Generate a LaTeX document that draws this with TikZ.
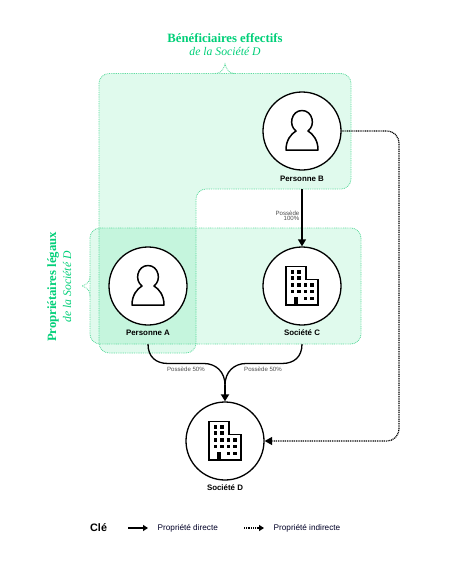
\documentclass[tikz,border=0pt]{standalone}
\usepackage{fontspec}
\setmainfont{Liberation Sans}
\newfontfamily\serifface{Liberation Serif}
\usetikzlibrary{arrows.meta}
\definecolor{gtext}{HTML}{00CF78}
\definecolor{gline}{HTML}{5FDB9F}
\definecolor{gfill}{HTML}{00D26A}
\tikzset{
  x=1pt,y=-1pt,
  region/.style={fill=gfill,fill opacity=.12,draw=gline,draw opacity=1,line width=.8pt,dash pattern=on .9pt off .9pt,rounded corners=10pt},
  bracey/.style={draw=gline,line width=.8pt,dash pattern=on .9pt off .9pt},
  entity/.style={circle,draw=black,line width=1.3pt,fill=white,minimum size=78pt,inner sep=0pt},
  elabel/.style={font=\fontsize{7.9}{9}\selectfont\bfseries,text=black,inner sep=0pt},
  smalllabel/.style={font=\fontsize{6.1}{7}\selectfont,text=black!70,inner sep=0pt,align=right},
  keylabel/.style={font=\fontsize{8.2}{9}\selectfont,text=black!85!blue,inner sep=0pt,anchor=west},
  direct/.style={line width=1.3pt,draw=black},
  indirect/.style={line width=1.2pt,draw=black,dash pattern=on 1pt off .8pt},
  headtip/.style={-{Triangle[length=7pt,width=8pt]}},
  smalltip/.style={-{Triangle[length=5pt,width=6pt]}},
  titlea/.style={font=\serifface\fontsize{12.7}{14}\selectfont\bfseries,text=gtext,inner sep=0pt},
  titleb/.style={font=\serifface\fontsize{11.7}{14}\selectfont\itshape,text=gtext,inner sep=0pt},
  person/.pic={
    \draw[line width=1.5pt,line join=round]
      (-16,19) -- (16,19)
      .. controls (16,9) and (11,3) .. (6,0)
      .. controls (10,-3) and (11,-8) .. (10,-12)
      .. controls (9,-17) and (5,-20.5) .. (0,-20.5)
      .. controls (-5,-20.5) and (-9,-17) .. (-10,-12)
      .. controls (-11,-8) and (-10,-3) .. (-6,0)
      .. controls (-11,3) and (-16,9) .. (-16,19) -- cycle;
  },
  building/.pic={
    \draw[line width=1.8pt]
      (-16,19) -- (-16,-19.5) -- (3.7,-19.5) -- (3.7,-6.5) -- (16,-6.5) -- (16,19) -- cycle;
    \foreach \xx/\yy in {-9.3/-14,-3/-14,-9.3/-8,-3/-8,-9.3/-1,-3/-1,3.5/-1,9.8/-1,-9.3/5.7,-3/5.7,3.5/5.7,9.8/5.7,3.5/12.3,9.8/12.3}
      \fill (\xx-1.7,\yy-1.7) rectangle (\xx+1.7,\yy+1.7);
    \fill (-8,11) rectangle (-4,19);
  },
}
\begin{document}
\begin{tikzpicture}
\useasboundingbox (0,0) rectangle (451,562);
% regions
\path[region] (99,73.5) -- (351,73.5) -- (351,189) -- (196,189) -- (196,353) -- (99,353) -- cycle;
\path[region] (90,228) rectangle (361,344);
% braces
\draw[bracey] (215,73.5) .. controls (220,73.5) and (223,71) .. (225,64) .. controls (227,71) and (230,73.5) .. (235,73.5);
\draw[bracey] (90,276) .. controls (90,281) and (88,284) .. (82,286) .. controls (88,288) and (90,291) .. (90,296);
% entities
\node[entity] (pB) at (302,131) {};
\node[entity] (pA) at (148,286) {};
\node[entity] (sC) at (302,286) {};
\node[entity] (sD) at (225,441) {};
\pic at (pB) {person};
\pic at (pA) {person};
\pic at (sC) {building};
\pic at (sD) {building};
\node[elabel] (lB) at (302,179) {Personne B};
\node[elabel] (lA) at (148,333) {Personne A};
\node[elabel] (lC) at (302,333) {Société C};
\node[elabel] (lD) at (225,488) {Société D};
% connectors
\coordinate (bOut) at (302,189);
\coordinate (aOut) at (148,344);
\coordinate (cOut) at (302,344);
\coordinate (merge) at (225,385);
\draw[direct,headtip] (bOut) -- (sC.north);
\draw[direct] (aOut) .. controls (148,357) and (156,363.5) .. (168,363.5) -- (204,363.5) .. controls (216,363.5) and (225,372) .. (merge);
\draw[direct] (cOut) .. controls (302,357) and (294,363.5) .. (282,363.5) -- (246,363.5) .. controls (234,363.5) and (225,372) .. (merge);
\draw[direct,line width=1.9pt,headtip] (merge) -- (sD.north);
\draw[indirect,-{Triangle[length=7.5pt,width=8pt]}] (pB.east) -- (386,131) .. controls (394,131) and (399,136) .. (399,144) -- (399,428) .. controls (399,436) and (394,441) .. (386,441) -- (sD.east);
% small labels
\node[smalllabel,anchor=east] (own) at (299.5,216.5) {\begin{tabular}{@{}r@{}}Possède\\[-1.2pt]100\%\end{tabular}};
\node[smalllabel] (ownA) at (186,369.5) {Possède 50\%};
\node[smalllabel] (ownC) at (263,369.5) {Possède 50\%};
% titles
\node[titlea] (t1) at (225,38) {Bénéficiaires effectifs};
\node[titleb] (t2) at (225,51) {de la Société D};
\node[titlea,rotate=90] (t3) at (53,287) {Propriétaires légaux};
\node[titleb,rotate=90] (t4) at (67,287) {de la Société D};
% key
\node[font=\fontsize{10.8}{12}\selectfont\bfseries,inner sep=0pt,anchor=west] (key) at (90,528) {Clé};
\coordinate (k1a) at (128,528); \coordinate (k1b) at (148,528);
\coordinate (k2a) at (244,528); \coordinate (k2b) at (264,528);
\draw[direct,smalltip] (k1a) -- (k1b);
\draw[indirect,smalltip] (k2a) -- (k2b);
\node[keylabel] (kt1) at (157.5,528) {Propriété directe};
\node[keylabel] (kt2) at (273.5,528) {Propriété indirecte};
\end{tikzpicture}
\end{document}
